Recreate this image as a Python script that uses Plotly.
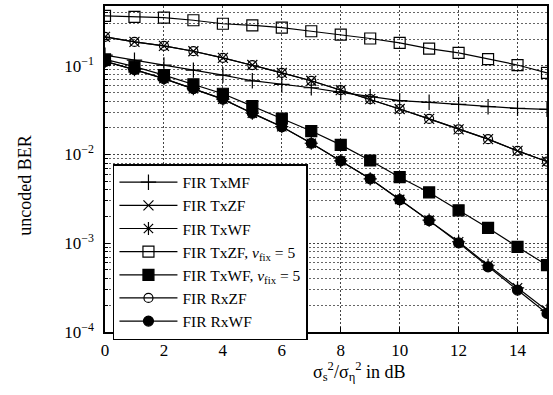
import plotly.graph_objects as go

snr_db = list(range(0, 16))

ber_tx_mf = [0.132, 0.116, 0.102, 0.0895, 0.0787, 0.0678, 0.0619, 0.0566, 0.0501,
             0.0448, 0.0405, 0.0388, 0.0368, 0.0346, 0.0332, 0.0323]
ber_tx_zf = [0.212, 0.186, 0.168, 0.146, 0.123, 0.102, 0.0834, 0.0678, 0.0533,
             0.0422, 0.0326, 0.0252, 0.0192, 0.0149, 0.0110, 0.00834]
ber_tx_wf = [0.112, 0.0906, 0.0718, 0.0553, 0.0421, 0.0292, 0.0206, 0.0134, 0.00849,
             0.00533, 0.00312, 0.00182, 0.00104, 0.000565, 0.000315, 0.000175]
ber_tx_zf_fix = [0.365, 0.356, 0.349, 0.326, 0.298, 0.286, 0.269, 0.245, 0.225,
                 0.203, 0.181, 0.156, 0.140, 0.119, 0.102, 0.0834]
ber_tx_wf_fix = [0.118, 0.098, 0.0786, 0.0619, 0.0484, 0.0351, 0.0254, 0.0184, 0.01285,
                 0.00857, 0.00556, 0.00374, 0.00235, 0.00149, 0.00091, 0.000566]
ber_rx_zf = [0.212, 0.186, 0.168, 0.146, 0.123, 0.102, 0.0834, 0.0678, 0.0533,
             0.0422, 0.0326, 0.0252, 0.0192, 0.0149, 0.0110, 0.00834]
ber_rx_wf = [0.112, 0.0906, 0.0718, 0.0553, 0.0421, 0.0292, 0.0206, 0.0134, 0.00849,
             0.00533, 0.00310, 0.00180, 0.00101, 0.000542, 0.000297, 0.000162]

series_names = ["FIR TxMF", "FIR TxZF", "FIR TxWF",
                "FIR TxZF, <i>ν</i><sub>fix</sub> = 5",
                "FIR TxWF, <i>ν</i><sub>fix</sub> = 5",
                "FIR RxZF", "FIR RxWF"]

y_tick_vals = [1e-4, 1e-3, 1e-2, 1e-1]
y_tick_text = ["10<sup>−4</sup>", "10<sup>−3</sup>", "10<sup>−2</sup>", "10<sup>−1</sup>"]
x_tick_vals = [0, 2, 4, 6, 8, 10, 12, 14]

FONT = "Liberation Serif, Times New Roman, serif"

styles = [
    dict(symbol="cross-thin-open", size=11),
    dict(symbol="x-thin-open", size=10),
    dict(symbol="asterisk-open", size=11),
    dict(symbol="square-open", size=11),
    dict(symbol="square", size=11),
    dict(symbol="circle-open", size=9),
    dict(symbol="circle", size=10),
]
data = [ber_tx_mf, ber_tx_zf, ber_tx_wf, ber_tx_zf_fix, ber_tx_wf_fix, ber_rx_zf, ber_rx_wf]

fig = go.Figure()
for name, vals, st in zip(series_names, data, styles):
    fig.add_trace(go.Scatter(
        x=snr_db, y=vals, name=name, mode="lines+markers",
        line=dict(color="black", width=1.2),
        marker=dict(symbol=st["symbol"], size=st["size"], color="black",
                    line=dict(color="black", width=1.2)),
    ))

fig.update_layout(
    width=553, height=395,
    margin=dict(l=105, r=5, t=4, b=63),
    paper_bgcolor="white", plot_bgcolor="white",
    font=dict(family=FONT, size=17, color="black"),
    showlegend=True,
    legend=dict(x=0.018, y=0.515, xanchor="left", yanchor="top",
                bgcolor="white", bordercolor="black", borderwidth=1.5,
                font=dict(family=FONT, size=15.5), itemwidth=58,
                tracegroupgap=0),
)

fig.update_xaxes(
    range=[0, 15], tickvals=x_tick_vals,
    showline=True, linecolor="black", linewidth=1.5, mirror=True,
    ticks="inside", ticklen=5, tickcolor="black",
    showgrid=True, gridcolor="#444", gridwidth=1, griddash="2px,2px",
    zeroline=False, ticklabelstandoff=2,
)
fig.update_yaxes(
    type="log", range=[-4.0, -0.326],
    tickvals=y_tick_vals, ticktext=y_tick_text,
    showline=True, linecolor="black", linewidth=1.5, mirror=True,
    ticks="inside", ticklen=5, tickcolor="black",
    showgrid=True, gridcolor="#444", gridwidth=1, griddash="2px,2px",
    minor=dict(dtick="D1", showgrid=True, gridcolor="#666", gridwidth=1,
               griddash="2px,2px", ticks="inside", ticklen=3, tickcolor="black"),
    zeroline=False, ticklabelstandoff=6,
)

fig.add_annotation(text="uncoded BER", xref="paper", yref="paper",
                   x=-0.18, y=0.45, textangle=-90, showarrow=False,
                   font=dict(family=FONT, size=18), xanchor="center", yanchor="middle")
fig.add_annotation(text="σ<sub>s</sub><sup>2</sup>/σ<sub>η</sub><sup>2</sup> in dB",
                   xref="paper", yref="paper", x=0.575, y=-0.122,
                   showarrow=False, font=dict(family=FONT, size=18),
                   xanchor="center", yanchor="middle")

fig.write_html("out.html", config={"displayModeBar": False},
               post_script="document.body.style.margin='0';")
